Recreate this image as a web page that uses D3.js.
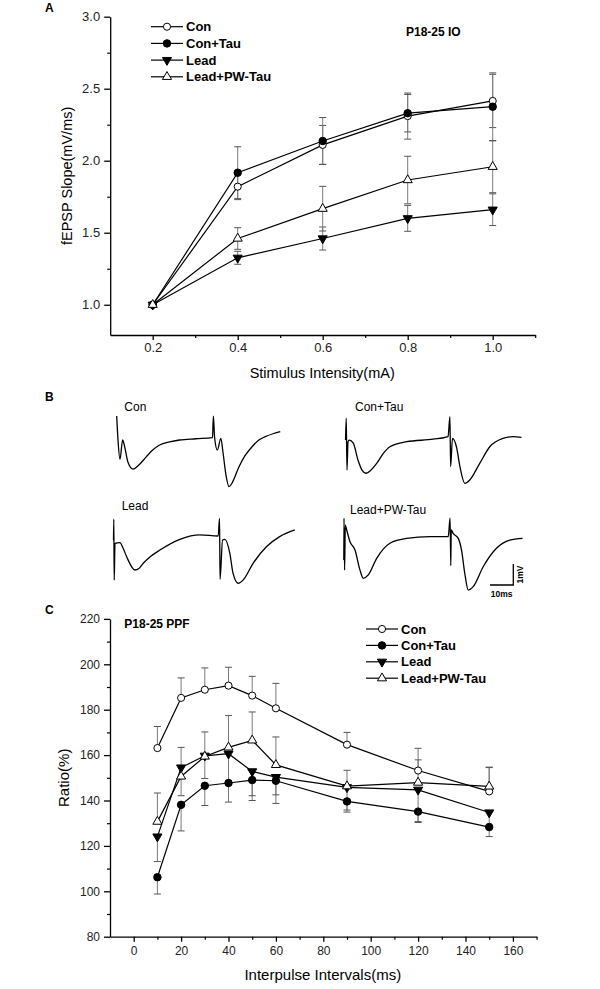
<!DOCTYPE html>
<html>
<head>
<meta charset="utf-8">
<script src="https://cdn.jsdelivr.net/npm/d3@7"></script>
<style>
  body { margin: 0; background: #fff; }
  svg { display: block; font-family: "Liberation Sans", Arial, sans-serif; }
</style>
</head>
<body>
<div id="chart"></div>
<script>
const seriesNames = ["Con", "Con+Tau", "Lead", "Lead+PW-Tau"];

// panel A: input/output
const ioIntensity = [0.2, 0.4, 0.6, 0.8, 1.0];
const ioCon = [1.0, 1.82, 2.11, 2.31, 2.415];
const ioConTau = [1.0, 1.917, 2.137, 2.33, 2.375];
const ioLead = [1.0, 1.326, 1.46, 1.60, 1.66];
const ioLeadPW = [1.0, 1.46, 1.667, 1.866, 1.958];
const ioConErr = [0, 0.09, 0.135, 0.16, 0.185];
const ioConTauErr = [0, 0.18, 0.163, 0.13, 0.235];
const ioLeadErr = [0, 0.045, 0.08, 0.09, 0.11];
const ioLeadPWErr = [0, 0.075, 0.155, 0.165, 0.18];
const ioXTicks = [0.2, 0.4, 0.6, 0.8, 1.0];
const ioYTicks = [1.0, 1.5, 2.0, 2.5, 3.0];

// panel C: paired pulse
const ppfIntervals = [10, 20, 30, 40, 50, 60, 90, 120, 150];
const ppfCon = [163.1, 185.2, 188.8, 190.6, 186.2, 180.6, 164.6, 153.2, 144.0];
const ppfConTau = [106.2, 138.1, 146.5, 147.7, 149.0, 148.7, 139.6, 135.1, 128.3];
const ppfLead = [124.1, 154.5, 159.7, 160.6, 152.8, 150.3, 145.8, 144.7, 134.7];
const ppfLeadPW = [130.7, 150.6, 159.4, 163.4, 166.5, 155.7, 146.3, 147.9, 146.2];
const ppfConErr = [9.5, 8.8, 9.6, 8.1, 8.5, 11, 5.4, 9.8, 10.5];
const ppfConTauErr = [7.4, 11.5, 8.7, 8.4, 9, 10, 4.7, 4.8, 4.2];
const ppfLeadErr = [11, 12.4, 10, 12, 10.7, 7.8, 10, 14, 6];
const ppfLeadPWErr = [12.6, 12.8, 10.8, 14, 12.5, 12.3, 7, 10, 8.5];
const ppfXTicks = [0, 20, 40, 60, 80, 100, 120, 140, 160];
const ppfYTicks = [80, 100, 120, 140, 160, 180, 200, 220];

// panel B: example traces, [time ms, mV]
const traceCon = [[0, 1.03], [0.56, -0.11], [1.41, -1.03], [2.55, -0.11], [3.53, -0.49], [4.8, -1.16],
  [7.06, -1.5], [9.06, -1.35], [12.77, -0.9], [15.45, -0.59], [18.43, -0.35], [22.7, -0.2], [26.96, -0.11],
  [34.0, -0.05], [41.1, 0], [41.5, 1.03], [42.0, 0.03], [43.2, -0.59], [44.7, -0.03], [45.6, -0.68],
  [46.9, -1.78], [48.2, -2.33], [49.5, -2.16], [52.5, -1.38], [55.0, -0.87], [58.1, -0.43], [61.0, -0.11],
  [63.8, 0.05], [67.4, 0.2], [70.2, 0.29]];
const traceConTau = [[-0.5, -0.05], [-0.2, 0.99], [0.13, -1.48], [0.56, -0.14], [1.11, -0.05], [2.83, -0.2],
  [4.84, -1.0], [6.56, -1.48], [8.27, -1.63], [9.99, -1.52], [12.86, -1.16], [15.56, -0.71], [18.56, -0.37],
  [25.7, -0.13], [37.1, -0.01], [43.5, 0.11], [44.3, 1.06], [44.6, -1.32], [45.4, 0.03], [47.1, -0.37],
  [48.6, -1.32], [50.7, -2.11], [52.8, -1.95], [57.1, -1.16], [61.4, -0.37], [67.1, 0.03], [71.4, 0.11],
  [75.0, 0.08]];
const traceLead = [[-0.21, -0.19], [-0.09, 0.8], [0.09, -2.1], [0.43, -0.35], [2.57, -0.32], [3.86, -0.57],
  [5.44, -0.99], [9.0, -1.62], [10.7, -1.55], [12.56, -1.3], [15.4, -1.0], [19.7, -0.67], [28.3, -0.16],
  [36.9, 0.05], [44.7, 0], [45.3, 0.84], [45.5, -2.06], [46.6, -0.19], [47.6, -0.16], [49.7, -0.82],
  [51.1, -1.78], [53.3, -2.25], [55.4, -2.1], [59.7, -1.3], [65.4, -0.51], [71.1, -0.03], [77.6, 0.29]];
const traceLeadPW = [[-0.21, -1.11], [-0.13, 0.88], [0.13, -1.59], [0.43, 0.56], [1.03, 0.32], [2.44, -0.24],
  [4.59, -0.63], [6.73, -1.59], [8.14, -1.98], [10.29, -1.82], [13.89, -1.03], [19.59, -0.31], [26.74, -0.08],
  [36.73, 0], [44.6, 0], [45.4, 0.88], [45.7, -1.38], [45.9, 0.32], [46.7, 0.16], [48.9, -0.08], [50.3, -0.63],
  [51.7, -1.74], [53.2, -2.54], [55.3, -2.38], [59.6, -1.43], [65.3, -0.55], [71.0, -0.16], [76.5, -0.08]];
const scaleBarMs = 10;
const scaleBarMv = 1;

const markers = [
  { type: d3.symbolCircle, fill: "#fff", rotate: 0, size: 40 },
  { type: d3.symbolCircle, fill: "#000", rotate: 0, size: 44 },
  { type: d3.symbolTriangle, fill: "#000", rotate: 180, size: 36 },
  { type: d3.symbolTriangle, fill: "#fff", rotate: 0, size: 36 }
];

const svg = d3.select("#chart").append("svg")
  .attr("width", 600)
  .attr("height", 989);

const marker = (m, x, y) => g => {
  g.append("path")
    .attr("d", d3.symbol(m.type, m.size)())
    .attr("transform", `translate(${x},${y}) rotate(${m.rotate})`)
    .attr("fill", m.fill)
    .attr("stroke", "#000")
    .attr("stroke-width", 1);
};

function plot(cfg) {
  const g = svg.append("g");
  const x = d3.scaleLinear(cfg.xDomain, cfg.xRange);
  const y = d3.scaleLinear(cfg.yDomain, cfg.yRange);

  // minor ticks
  g.append("g")
    .attr("transform", `translate(0,${cfg.yRange[0]})`)
    .attr("stroke-width", 1.2)
    .call(d3.axisBottom(x).tickValues(cfg.xMinor).tickSize(3).tickFormat(""))
    .call(a => a.select(".domain").remove());
  g.append("g")
    .attr("transform", `translate(${cfg.xRange[0]},0)`)
    .attr("stroke-width", 1.2)
    .call(d3.axisLeft(y).tickValues(cfg.yMinor).tickSize(3).tickFormat(""))
    .call(a => a.select(".domain").remove());

  g.append("g")
    .attr("transform", `translate(0,${cfg.yRange[0]})`)
    .attr("stroke-width", 1.3)
    .call(d3.axisBottom(x).tickValues(cfg.xTicks).tickSize(5).tickSizeOuter(0)
      .tickPadding(cfg.xPad).tickFormat(d3.format(cfg.fmt)))
    .call(a => a.selectAll("text").attr("font-size", cfg.tickFont)
      .attr("font-family", "Liberation Sans, Arial, sans-serif").attr("fill", "#222"));
  g.append("g")
    .attr("transform", `translate(${cfg.xRange[0]},0)`)
    .attr("stroke-width", 1.3)
    .call(d3.axisLeft(y).tickValues(cfg.yTicks).tickSize(6).tickSizeOuter(0)
      .tickPadding(4).tickFormat(d3.format(cfg.fmt)))
    .call(a => a.selectAll("text").attr("font-size", cfg.tickFont)
      .attr("font-family", "Liberation Sans, Arial, sans-serif").attr("fill", "#222"));

  // error bars
  cfg.series.forEach(s => {
    s.values.forEach((v, i) => {
      const e = s.errors[i];
      if (!e) return;
      const cx = x(cfg.xs[i]);
      const ends = s.dir === "both" ? [v - e, v + e] : s.dir === "up" ? [v + e] : [v - e];
      const lo = d3.min([v, ...ends]), hi = d3.max([v, ...ends]);
      g.append("line")
        .attr("x1", cx).attr("x2", cx)
        .attr("y1", y(lo)).attr("y2", y(hi))
        .attr("stroke", "#7a7a7a").attr("stroke-width", 1);
      ends.forEach(end => {
        g.append("line")
          .attr("x1", cx - 3.5).attr("x2", cx + 3.5)
          .attr("y1", y(end)).attr("y2", y(end))
          .attr("stroke", "#555").attr("stroke-width", 1);
      });
    });
  });

  const line = d3.line().x((d, i) => x(cfg.xs[i])).y(d => y(d));
  cfg.series.forEach((s, k) => {
    g.append("path")
      .attr("d", line(s.values))
      .attr("fill", "none")
      .attr("stroke", "#000")
      .attr("stroke-width", 1.2);
  });
  cfg.series.forEach((s, k) => {
    s.values.forEach((v, i) => g.call(marker(markers[k], x(cfg.xs[i]), y(v))));
  });

  // legend
  seriesNames.forEach((name, k) => {
    const ly = cfg.legend.y + k * cfg.legend.dy;
    g.append("line")
      .attr("x1", cfg.legend.x).attr("x2", cfg.legend.x + 32)
      .attr("y1", ly).attr("y2", ly)
      .attr("stroke", "#000").attr("stroke-width", 1.2);
    g.call(marker(markers[k], cfg.legend.x + 16, ly));
    g.append("text")
      .attr("x", cfg.legend.x + 35).attr("y", ly).attr("dy", "0.36em")
      .attr("font-size", 13).attr("font-weight", "bold")
      .text(name);
  });

  g.append("text")
    .attr("x", cfg.tag.x).attr("y", cfg.tag.y).attr("dy", "0.36em")
    .attr("font-size", 12).attr("font-weight", "bold")
    .text(cfg.tag.text);

  g.append("text")
    .attr("transform", `translate(${cfg.yTitle.x},${(cfg.yRange[0] + cfg.yRange[1]) / 2}) rotate(-90)`)
    .attr("text-anchor", "middle").attr("dy", "0.36em")
    .attr("font-size", cfg.titleFont)
    .text(cfg.yTitle.text);
  g.append("text")
    .attr("x", (cfg.xRange[0] + cfg.xRange[1]) / 2 - 0.5).attr("y", cfg.xTitle.y)
    .attr("text-anchor", "middle").attr("dy", "0.36em")
    .attr("font-size", cfg.titleFont)
    .text(cfg.xTitle.text);
}

plot({
  xDomain: [0.1, 1.1], xRange: [110.2, 535.2],
  yDomain: [0.79, 3.0], yRange: [335, 16.7],
  xTicks: ioXTicks, xMinor: [0.3, 0.5, 0.7, 0.9, 1.1],
  yTicks: ioYTicks, yMinor: [1.25, 1.75, 2.25, 2.75],
  fmt: ".1f", tickFont: 13, titleFont: 14.5, xPad: 3,
  xs: ioIntensity,
  series: [
    { values: ioCon, errors: ioConErr, dir: "both" },
    { values: ioConTau, errors: ioConTauErr, dir: "both" },
    { values: ioLead, errors: ioLeadErr, dir: "both" },
    { values: ioLeadPW, errors: ioLeadPWErr, dir: "both" }
  ],
  legend: { x: 151, y: 26.7, dy: 16.7 },
  tag: { x: 406, y: 32, text: "P18-25 IO" },
  yTitle: { x: 67, text: "fEPSP Slope(mV/ms)" },
  xTitle: { y: 373, text: "Stimulus Intensity(mA)" }
});

plot({
  xDomain: [-10, 170], xRange: [110, 536.6],
  yDomain: [80, 220], yRange: [936.7, 618.9],
  xTicks: ppfXTicks, xMinor: [10, 30, 50, 70, 90, 110, 130, 150, 170],
  yTicks: ppfYTicks, yMinor: [90, 110, 130, 150, 170, 190, 210],
  fmt: "d", tickFont: 12, titleFont: 15, xPad: 5,
  xs: ppfIntervals,
  series: [
    { values: ppfCon, errors: ppfConErr, dir: "up" },
    { values: ppfConTau, errors: ppfConTauErr, dir: "down" },
    { values: ppfLead, errors: ppfLeadErr, dir: "down" },
    { values: ppfLeadPW, errors: ppfLeadPWErr, dir: "up" }
  ],
  legend: { x: 366, y: 629, dy: 16.4 },
  tag: { x: 124.3, y: 623.3, text: "P18-25 PPF" },
  yTitle: { x: 64, text: "Ratio(%)" },
  xTitle: { y: 975, text: "Interpulse Intervals(ms)" }
});

// panel B traces
const msScale = d3.scaleLinear([0, 10], [0, 23.3]);
const mvScale = d3.scaleLinear([0, 1], [0, -21]);
const traceLine = d3.line()
  .x(d => msScale(d[0]))
  .y(d => mvScale(d[1]))
  .curve(d3.curveMonotoneX);
const traces = [
  { data: traceCon, x: 116.7, y: 437.7, label: "Con", lx: 124.3, ly: 406.7 },
  { data: traceConTau, x: 346.7, y: 439, label: "Con+Tau", lx: 355, ly: 406.7 },
  { data: traceLead, x: 114, y: 536, label: "Lead", lx: 121.7, ly: 506 },
  { data: traceLeadPW, x: 344.3, y: 536.7, label: "Lead+PW-Tau", lx: 350, ly: 509.3 }
];
traces.forEach(t => {
  svg.append("path")
    .attr("transform", `translate(${t.x},${t.y})`)
    .attr("d", traceLine(t.data))
    .attr("fill", "none")
    .attr("stroke", "#000")
    .attr("stroke-width", 1.3)
    .attr("stroke-linejoin", "round");
  svg.append("text")
    .attr("x", t.lx).attr("y", t.ly).attr("dy", "0.36em")
    .attr("font-size", 12)
    .text(t.label);
});

// scale bar
const bar = svg.append("g").attr("transform", "translate(490,585)");
bar.append("path")
  .attr("d", `M0,0H${msScale(scaleBarMs)}V${mvScale(scaleBarMv)}`)
  .attr("fill", "none").attr("stroke", "#000").attr("stroke-width", 1.3);
bar.append("text")
  .attr("x", msScale(scaleBarMs) / 2).attr("y", 9).attr("dy", "0.36em")
  .attr("text-anchor", "middle").attr("font-size", 8.5).attr("font-weight", "bold")
  .text("10ms");
bar.append("text")
  .attr("transform", `translate(${msScale(scaleBarMs) + 7},${mvScale(scaleBarMv) / 2}) rotate(-90)`)
  .attr("text-anchor", "middle").attr("dy", "0.36em")
  .attr("font-size", 8.5).attr("font-weight", "bold")
  .text("1mV");

// panel letters
[["A", 45, 7.5], ["B", 45, 397], ["C", 45, 610]].forEach(([t, x, y]) => {
  svg.append("text")
    .attr("x", x).attr("y", y).attr("dy", "0.36em")
    .attr("font-size", 12).attr("font-weight", "bold")
    .text(t);
});
</script>
</body>
</html>
